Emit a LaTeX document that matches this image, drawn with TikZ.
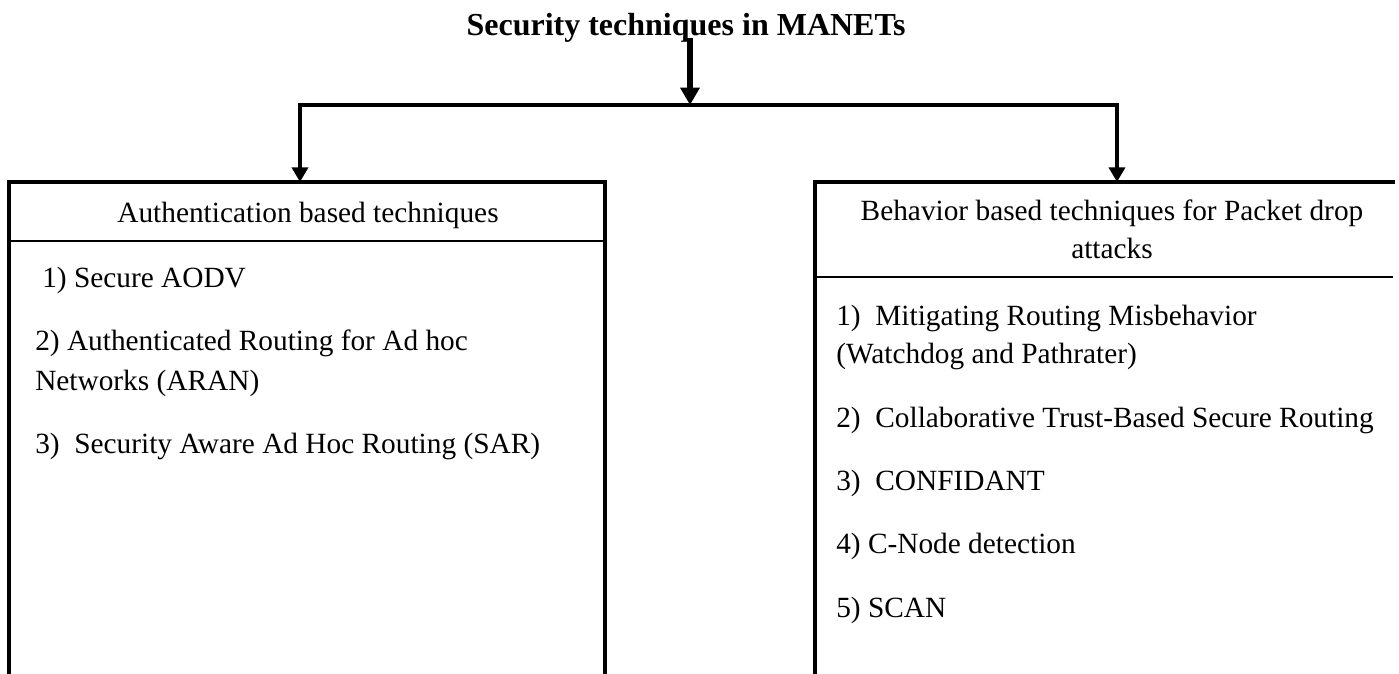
\documentclass[tikz,border=0pt]{standalone}
\usepackage{fontspec}
\setmainfont{Liberation Serif}
\usetikzlibrary{arrows.meta}
\tikzset{
  px/.style={x=0.75pt,y=-0.75pt},
  boxline/.style={line width=3.6pt,line cap=rect},
  divline/.style={line width=1.5pt},
  conn/.style={line width=3.4pt},
  arrowconn/.style={line width=3.4pt,-{Triangle[length=11pt,width=12pt]}},
  bigarrow/.style={line width=4.4pt,-{Triangle[length=13pt,width=14pt]}},
  txt/.style={inner sep=0pt,font=\fontsize{22}{28.5}\selectfont},
  item/.style={txt,anchor=base west},
  head/.style={txt,anchor=base},
  titletxt/.style={inner sep=0pt,anchor=base,font=\fontsize{24}{28}\selectfont\bfseries}
}
\begin{document}
\begin{tikzpicture}[px]
\useasboundingbox (0,0) rectangle (1399,674);
% title
\node[titletxt] (title) at (686,36) {Security techniques in MANETs};
\coordinate (tq) at (690,38);
\coordinate (busM) at (690,105);
\coordinate (busL) at (300,105);
\coordinate (busR) at (1117,105);
\coordinate (ltop) at (300,182);
\coordinate (rtop) at (1117,182);
% left box
\draw[boxline] (9,676) -- (9,182) -- (605,182) -- (605,676);
\draw[divline] (9,241) -- (605,241);
% right box
\draw[boxline] (815,676) -- (815,182) -- (1393,182);
\draw[divline] (815,277) -- (1393,277);
% connectors
\draw[bigarrow] (tq) -- (busM);
\draw[conn,line cap=rect] (busL) -- (busR);
\draw[arrowconn] (busL) -- (ltop);
\draw[arrowconn] (busR) -- (rtop);
% left texts
\node[head] (lh) at (308,222) {Authentication based techniques};
\node[item] (l1) at (42,287) {1) Secure AODV};
\node[item] (l2a) at (35,350) {2) Authenticated Routing for Ad hoc};
\node[item] (l2b) at (35,390) {Networks (ARAN)};
\node[item] (l3) at (35,453) {3)\ \ Security Aware Ad Hoc Routing (SAR)};
% right texts
\node[head] (rh1) at (1112,220) {Behavior based techniques for Packet drop};
\node[head] (rh2) at (1112,258) {attacks};
\node[item] (r1a) at (836,325) {1)\ \ Mitigating Routing Misbehavior};
\node[item] (r1b) at (836,363) {(Watchdog and Pathrater)};
\node[item] (r2) at (836,427) {2)\ \ Collaborative Trust-Based Secure Routing};
\node[item] (r3) at (836,490) {3)\ \ CONFIDANT};
\node[item] (r4) at (836,553) {4) C-Node detection};
\node[item] (r5) at (836,617) {5) SCAN};
\end{tikzpicture}
\end{document}
